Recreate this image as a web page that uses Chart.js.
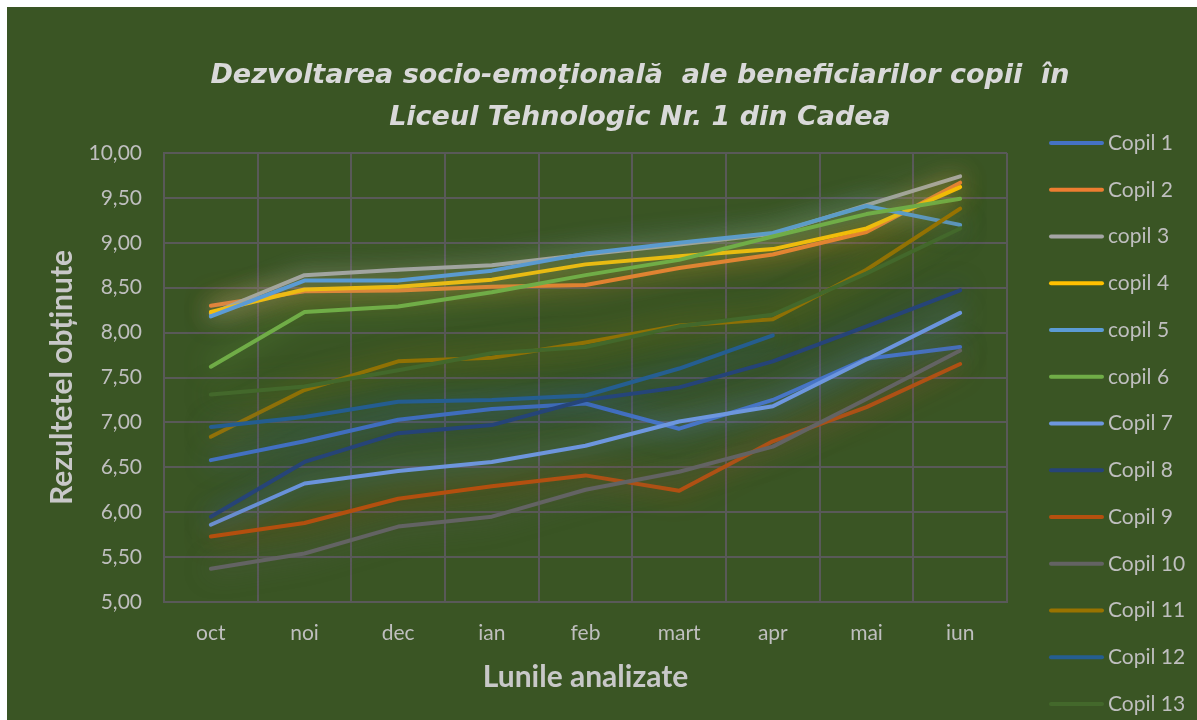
<!DOCTYPE html>
<html>
<head>
<meta charset="utf-8">
<script src="https://cdn.jsdelivr.net/npm/chart.js@4.4.1/dist/chart.umd.min.js"></script>
<style>
  html, body { margin: 0; padding: 0; background: #ffffff; overflow: hidden; }
  #wrap { position: absolute; left: 7px; top: 7px; width: 1190px; height: 713px; overflow: hidden; }
  canvas { display: block; }
</style>
</head>
<body>
<div id="wrap"><canvas id="chart" width="1266" height="713"></canvas></div>
<script>
// months on the x axis
const months = ['oct', 'noi', 'dec', 'ian', 'feb', 'mart', 'apr', 'mai', 'iun'];

// series names, as in the legend
const names = ['Copil 1', 'Copil 2', 'copil 3', 'copil 4', 'copil 5', 'copil 6', 'Copil 7',
  'Copil 8', 'Copil 9', 'Copil 10', 'Copil 11', 'Copil 12', 'Copil 13'];

// values
const copil1 = [6.58, 6.79, 7.03, 7.15, 7.21, 6.93, 7.25, 7.71, 7.84];
const copil2 = [8.30, 8.46, 8.47, 8.51, 8.53, 8.72, 8.87, 9.12, 9.67];
const copil3 = [8.21, 8.64, 8.70, 8.75, 8.87, 8.98, 9.10, 9.42, 9.74];
const copil4 = [8.23, 8.48, 8.51, 8.59, 8.76, 8.85, 8.93, 9.16, 9.62];
const copil5 = [8.18, 8.58, 8.58, 8.69, 8.88, 9.00, 9.11, 9.41, 9.20];
const copil6 = [7.62, 8.23, 8.29, 8.45, 8.64, 8.81, 9.07, 9.32, 9.49];
const copil7 = [5.86, 6.32, 6.46, 6.56, 6.74, 7.01, 7.18, 7.70, 8.22];
const copil8 = [5.95, 6.56, 6.88, 6.97, 7.25, 7.39, 7.68, 8.07, 8.47];
const copil9 = [5.73, 5.88, 6.15, 6.29, 6.41, 6.24, 6.79, 7.17, 7.65];
const copil10 = [5.37, 5.54, 5.84, 5.95, 6.25, 6.45, 6.73, 7.26, 7.80];
const copil11 = [6.84, 7.36, 7.68, 7.72, 7.89, 8.08, 8.15, 8.70, 9.38];
const copil12 = [6.95, 7.06, 7.23, 7.25, 7.30, 7.60, 7.97, null, null];
const copil13 = [7.31, 7.40, 7.58, 7.77, 7.84, 8.07, 8.20, 8.66, 9.16];

const series = [copil1, copil2, copil3, copil4, copil5, copil6, copil7,
  copil8, copil9, copil10, copil11, copil12, copil13];

const colors = ['#4472C4', '#ED7D31', '#A5A5A5', '#FFC000', '#5B9BD5', '#70AD47', '#6D97DF',
  '#264478', '#B5500F', '#636363', '#997300', '#255E91', '#43682B'];

const BG = '#3A5524';
const GRID = '#595959';
const TEXT = '#BFBFBF';

function rgba(hex, a) {
  const n = parseInt(hex.slice(1), 16);
  return `rgba(${(n >> 16) & 255},${(n >> 8) & 255},${n & 255},${a})`;
}

// green background for the whole canvas
const bgPlugin = {
  id: 'bg',
  beforeDraw(chart) {
    const ctx = chart.ctx;
    ctx.save();
    ctx.fillStyle = BG;
    ctx.fillRect(0, 0, chart.width, chart.height);
    ctx.restore();
  }
};

// soft glow round each line, like the Excel effect
const glowPlugin = {
  id: 'glow',
  beforeDatasetDraw(chart, args) {
    const ds = chart.data.datasets[args.index];
    chart.ctx.save();
    chart.ctx.shadowColor = rgba(ds.borderColor, 0.8);
    chart.ctx.shadowBlur = 26;
  },
  afterDatasetDraw(chart) {
    chart.ctx.restore();
  }
};

// legend on the right, one column
const legendPlugin = {
  id: 'sideLegend',
  afterDraw(chart) {
    const ctx = chart.ctx;
    ctx.save();
    ctx.font = '21px Lato';
    ctx.textBaseline = 'middle';
    ctx.textAlign = 'left';
    ctx.lineCap = 'round';
    chart.data.datasets.forEach((ds, i) => {
      const y = 136 + i * 46.75;
      ctx.strokeStyle = ds.borderColor;
      ctx.lineWidth = 4;
      ctx.beginPath();
      ctx.moveTo(1044, y);
      ctx.lineTo(1095, y);
      ctx.stroke();
      ctx.fillStyle = TEXT;
      ctx.fillText(ds.label, 1101, y);
    });
    ctx.restore();
  }
};

const datasets = series.map((vals, i) => ({
  label: names[i],
  data: vals,
  borderColor: colors[i],
  backgroundColor: colors[i],
  borderWidth: 4,
  borderCapStyle: 'round',
  borderJoinStyle: 'round',
  pointRadius: 0,
  tension: 0,
  order: -i,
  yAxisID: 'y'
}));

new Chart(document.getElementById('chart'), {
  type: 'line',
  data: { labels: months, datasets },
  plugins: [bgPlugin, glowPlugin, legendPlugin],
  options: {
    responsive: false,
    animation: false,
    devicePixelRatio: 1,
    layout: { padding: 0 },
    plugins: {
      legend: { display: false },
      tooltip: { enabled: false },
      title: {
        display: true,
        text: ['Dezvoltarea socio-emoțională  ale beneficiarilor copii  în', 'Liceul Tehnologic Nr. 1 din Cadea'],
        color: '#D9D9D9',
        font: { family: 'DejaVu Sans', size: 27, weight: 'bold', style: 'italic', lineHeight: 1.556 },
        padding: { top: 48, bottom: 14 }
      }
    },
    scales: {
      x: {
        offset: true,
        grid: { color: GRID, lineWidth: 2, drawTicks: false, offset: true },
        border: { color: GRID, width: 2 },
        ticks: { color: TEXT, font: { family: 'Lato', size: 21 }, padding: 19 },
        title: {
          display: true,
          text: 'Lunile analizate',
          color: '#C8C8C8',
          font: { family: 'Lato', size: 30, weight: 'bold' },
          padding: { top: 0, bottom: 25 }
        },
        afterFit(s) { s.height = 118; }
      },
      y: {
        min: 5,
        max: 10,
        grid: { color: GRID, lineWidth: 2, drawTicks: false },
        border: { color: GRID, width: 2 },
        ticks: {
          stepSize: 0.5,
          color: TEXT,
          font: { family: 'Lato', size: 21 },
          padding: 22,
          callback: v => v.toFixed(2).replace('.', ',')
        },
        title: {
          display: true,
          text: 'Rezultetel obținute',
          color: '#C8C8C8',
          font: { family: 'Lato', size: 30, weight: 'bold' },
          padding: { top: 37, bottom: 0 }
        },
        afterFit(s) { s.width = 157; }
      },
      // empty axis that only keeps room for the legend
      y2: {
        type: 'linear',
        position: 'right',
        grid: { display: false },
        border: { display: false },
        ticks: { display: false },
        afterFit(s) { s.width = 266; }
      }
    }
  }
});
</script>
</body>
</html>
